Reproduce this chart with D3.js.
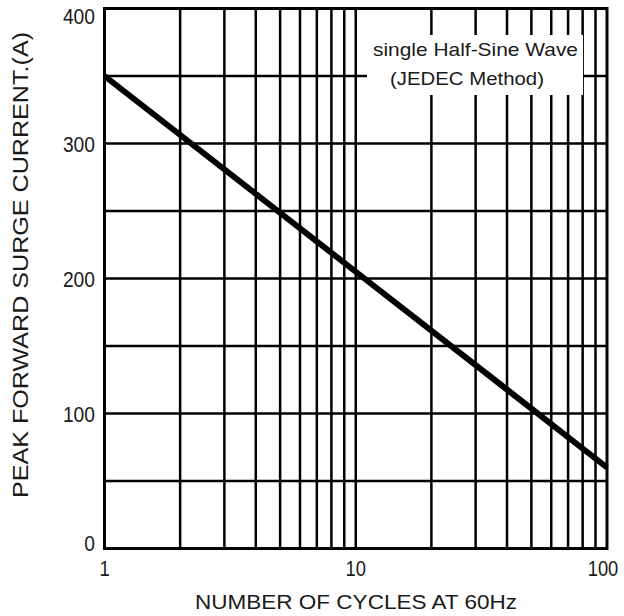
<!DOCTYPE html>
<html><head><meta charset="utf-8">
<script src="https://cdn.jsdelivr.net/npm/d3@7"></script>
<style>body{margin:0;background:#fff}svg{display:block}text{font-family:"Liberation Sans",Arial,sans-serif;fill:#1a1a1a}</style>
</head><body><svg id="c" width="624" height="616"></svg>
<script>
const cycles = [1, 10, 100];
const current = [350, 205, 60];
const yTicks = [0, 100, 200, 300, 400];
const yGrid = [50, 100, 150, 200, 250, 300, 350];
const xTicks = [1, 10, 100];
const xGrid = [2,3,4,5,6,7,8,9,10,20,30,40,50,60,70,80,90];
const noteLines = ["single Half-Sine Wave", "(JEDEC Method)"];

const svg = d3.select("#c");
const L = 104.5, R = 607, T = 8.5, B = 548.5;
const x = d3.scaleLog().domain([1, 100]).range([L, R]);
const y = d3.scaleLinear().domain([0, 400]).range([B, T]);

svg.append("g").selectAll("line").data(xGrid).join("line")
  .attr("x1", d => x(d)).attr("x2", d => x(d)).attr("y1", T).attr("y2", B)
  .attr("stroke", "#000").attr("stroke-width", 2.5);
svg.append("g").selectAll("line").data(yGrid).join("line")
  .attr("y1", d => y(d)).attr("y2", d => y(d)).attr("x1", L).attr("x2", R)
  .attr("stroke", "#000").attr("stroke-width", 2.5);

// note box
svg.append("rect").attr("x", 367).attr("y", 35).attr("width", 216).attr("height", 60).attr("fill", "#fff");
const noteGeom = [{cx: 475.5, y: 56, len: 205}, {cx: 467, y: 85, len: 154}];
svg.append("g").selectAll("text").data(noteLines).join("text")
  .attr("x", (d, i) => noteGeom[i].cx - noteGeom[i].len / 2).attr("y", (d, i) => noteGeom[i].y)
  .attr("textLength", (d, i) => noteGeom[i].len).attr("lengthAdjust", "spacingAndGlyphs")
  .attr("font-size", 19).text(d => d);

svg.append("rect").attr("x", L).attr("y", T).attr("width", R - L).attr("height", B - T)
  .attr("fill", "none").attr("stroke", "#000").attr("stroke-width", 3);

const pts = cycles.map((c, i) => [c, current[i]]);
svg.append("path").datum(pts)
  .attr("d", d3.line().x(d => x(d[0])).y(d => y(d[1])))
  .attr("fill", "none").attr("stroke", "#000").attr("stroke-width", 6);

// y tick labels
svg.append("g").selectAll("text").data(yTicks).join("text")
  .attr("x", d => 95 - (String(d).length * 10.7))
  .attr("y", d => Math.min(Math.max(y(d), T + 7), B - 5.5) + 8)
  .attr("textLength", d => String(d).length * 10.7).attr("lengthAdjust", "spacingAndGlyphs")
  .attr("font-size", 22).text(d => d);
// x tick labels
svg.append("g").selectAll("text").data(xTicks).join("text")
  .attr("x", d => Math.min(x(d), 603) - String(d).length * 5.1)
  .attr("y", 576)
  .attr("textLength", d => String(d).length * 10.2).attr("lengthAdjust", "spacingAndGlyphs")
  .attr("font-size", 22).text(d => d);

svg.append("text").attr("x", 195).attr("y", 609).attr("textLength", 322).attr("lengthAdjust", "spacingAndGlyphs")
  .attr("font-size", 21).text("NUMBER OF CYCLES AT 60Hz");
svg.append("text").attr("transform", "translate(28,498) rotate(-90)")
  .attr("textLength", 466).attr("lengthAdjust", "spacingAndGlyphs").attr("font-size", 22)
  .text("PEAK FORWARD SURGE CURRENT.(A)");
</script></body></html>
